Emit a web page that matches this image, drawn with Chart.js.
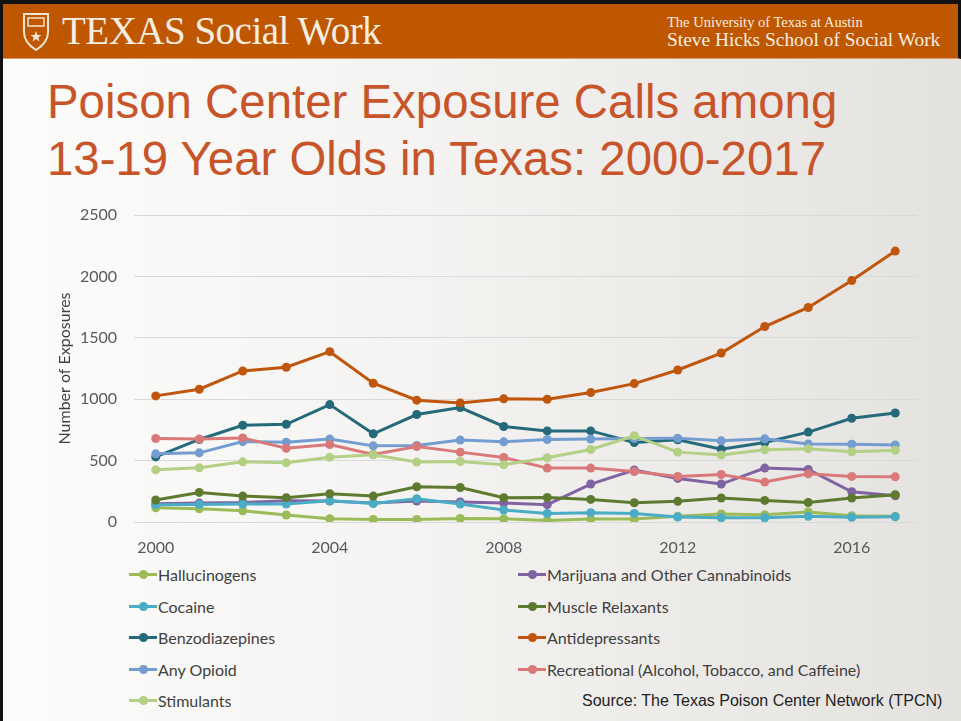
<!DOCTYPE html>
<html>
<head>
<meta charset="utf-8">
<title>Poison Center Exposure Calls</title>
<script src="https://cdn.jsdelivr.net/npm/chart.js"></script>
<style>
  html, body { margin: 0; padding: 0; }
  body { width: 961px; height: 721px; overflow: hidden; position: relative;
         background: linear-gradient(to right, #fcfcfb 0%, #f4f3f1 45%, #e4e2df 100%); }
  .frame { position: absolute; left: 0; top: 0; width: 3px; height: 721px; background: #111; }
  .header { position: absolute; left: 0; top: 0; width: 958px; height: 54px;
            background: #bf5700; border-top: 4px solid #111; border-right: 3px solid #111;
            border-bottom: 1px solid #dc9a6a; }
  .brand { position: absolute; left: 62px; top: 7px; font-family: "Liberation Serif", "DejaVu Serif", serif;
           font-size: 39px; line-height: 39px; color: #f7eee2; letter-spacing: -0.5px; }
  .shield { position: absolute; left: 22px; top: 8px; }
  .uni { position: absolute; left: 667px; top: 10px; font-family: "Liberation Serif", serif;
         font-size: 14.5px; color: #f7eee2; }
  .school { position: absolute; left: 667px; top: 25px; font-family: "Liberation Serif", serif;
            font-size: 19.4px; color: #f7eee2; }
  .title { position: absolute; left: 47px; top: 73px; font-family: "Liberation Sans", Arial, sans-serif;
           font-size: 47.4px; line-height: 57px; color: #c8542a; }
  #chart { position: absolute; left: 0; top: 200px; }
  .legend { position: absolute; font-family: Lato, "Open Sans", sans-serif; font-size: 16px; color: #404040; }
  .legend .item { position: absolute; white-space: nowrap; height: 20px; line-height: 20px; }
  .legend .mark { position: absolute; left: 0; top: 8px; width: 28px; height: 3px; }
  .legend .dot { position: absolute; left: 10px; top: -3px; width: 9px; height: 9px; border-radius: 50%; }
  .legend .txt { position: absolute; left: 29px; top: 0; }
  .source { position: absolute; left: 582px; top: 692px; font-family: "Liberation Sans", Arial, sans-serif;
            font-size: 16px; color: #222; }
</style>
</head>
<body>
<div class="header">
  <svg class="shield" width="28" height="40" viewBox="0 0 28 40">
    <path d="M2 2 H26 V20 C26 30 19 35 14 38 C9 35 2 30 2 20 Z" fill="none" stroke="#f3e6d3" stroke-width="2"/>
    <rect x="6" y="6" width="16" height="8" fill="none" stroke="#f3e6d3" stroke-width="1.5"/>
    <path d="M14 19 L15.5 23 L19.5 23 L16.3 25.5 L17.5 29.5 L14 27 L10.5 29.5 L11.7 25.5 L8.5 23 L12.5 23 Z" fill="#f3e6d3"/>
  </svg>
  <div class="brand">TEXAS Social Work</div>
  <div class="uni">The University of Texas at Austin</div>
  <div class="school">Steve Hicks School of Social Work</div>
</div>
<div class="frame"></div>
<div class="title">Poison Center Exposure Calls among<br>13-19 Year Olds in Texas: 2000-2017</div>
<canvas id="chart" width="961" height="360"></canvas>
<div class="legend" id="legend"></div>
<div class="source">Source: The Texas Poison Center Network (TPCN)</div>

<script>
// yearly exposure counts, 13-19 year olds
const years = ['2000','2001','2002','2003','2004','2005','2006','2007','2008',
               '2009','2010','2011','2012','2013','2014','2015','2016','2017'];

const hallucinogens = [116,108,92,57,27,21,21,29,27,13,24,24,46,65,59,81,51,46];
const marijuana     = [149,154,159,173,171,154,171,163,155,141,309,423,355,309,439,428,246,214];
const cocaine       = [141,143,146,146,173,151,189,146,98,70,76,70,41,35,35,46,38,43];
const muscleRelax   = [179,241,211,198,230,211,287,281,198,200,184,157,168,195,176,159,195,222];
const benzos        = [530,672,788,796,956,718,875,932,778,742,742,647,669,593,647,732,845,888];
const antidepress   = [1027,1081,1230,1260,1387,1130,992,970,1003,1000,1054,1127,1238,1376,1592,1747,1966,2206];
const opioids       = [555,563,655,650,675,620,623,667,653,672,675,680,683,661,677,636,634,628];
const recreational  = [680,675,685,601,631,550,615,569,525,439,439,411,371,387,325,393,371,368];
const stimulants    = [425,441,490,482,528,547,488,493,466,523,590,702,569,545,588,596,572,585];

const seriesNames = ['Hallucinogens', 'Marijuana and Other Cannabinoids', 'Cocaine', 'Muscle Relaxants',
  'Benzodiazepines', 'Antidepressants', 'Any Opioid', 'Recreational (Alcohol, Tobacco, and Caffeine)', 'Stimulants'];
const seriesData = [hallucinogens, marijuana, cocaine, muscleRelax, benzos, antidepress, opioids, recreational, stimulants];
const seriesColors = ['#9bbb59', '#8064a2', '#4bacc6', '#5d7a2f', '#246a7a', '#c0560c', '#739cd1', '#d9797a', '#b3d084'];

const yTicks = [0, 500, 1000, 1500, 2000, 2500];

const datasets = seriesNames.map((name, i) => ({
  label: name,
  data: seriesData[i],
  borderColor: seriesColors[i],
  backgroundColor: seriesColors[i],
  pointBackgroundColor: seriesColors[i],
  borderWidth: 3,
  pointRadius: 4.5,
  pointBorderWidth: 0,
  tension: 0,
  order: seriesNames.length - i
}));

const tickFont = { family: 'Lato, "Open Sans", sans-serif', size: 16 };

new Chart(document.getElementById('chart'), {
  type: 'line',
  data: { labels: years, datasets: datasets },
  options: {
    responsive: false,
    animation: false,
    layout: { padding: { top: 15, right: 44, bottom: 0, left: 0 } },
    plugins: { legend: { display: false }, tooltip: { enabled: false } },
    scales: {
      x: {
        offset: true,
        grid: { display: false, drawTicks: false },
        border: { display: false },
        ticks: {
          autoSkip: false, maxRotation: 0, padding: 16, color: '#595959', font: tickFont,
          callback: function (value, index) {
            return index % 4 === 0 ? this.getLabelForValue(value) : '';
          }
        },
        afterFit: scale => { scale.height = 38; }
      },
      y: {
        min: 0, max: 2500,
        afterBuildTicks: scale => { scale.ticks = yTicks.map(v => ({ value: v })); },
        grid: { color: '#d9d9d9', lineWidth: 1, drawTicks: false },
        border: { display: false },
        ticks: { padding: 17, color: '#595959', font: tickFont, callback: v => String(v) },
        title: {
          display: true, text: 'Number of Exposures', color: '#404040',
          font: { family: 'Lato, "Open Sans", sans-serif', size: 16 },
          padding: { top: 55, bottom: 0 }
        },
        // fixed label column; tick padding should not push the plot down
        afterFit: scale => {
          scale.width = 134;
          scale.paddingTop = 10;
          scale.paddingBottom = 10;
        }
      }
    }
  }
});

// two-column legend, filled row by row
function buildLegend() {
  const box = document.getElementById('legend');
  const colX = [129, 518];
  const rowY = [565, 597, 628, 660, 691];
  seriesNames.forEach((name, i) => {
    const item = document.createElement('div');
    item.className = 'item';
    item.style.left = colX[i % 2] + 'px';
    item.style.top = rowY[Math.floor(i / 2)] + 'px';
    item.innerHTML = `<span class="mark" style="background:${seriesColors[i]}"><span class="dot" style="background:${seriesColors[i]}"></span></span><span class="txt">${name}</span>`;
    box.appendChild(item);
  });
}
buildLegend();
</script>
</body>
</html>
